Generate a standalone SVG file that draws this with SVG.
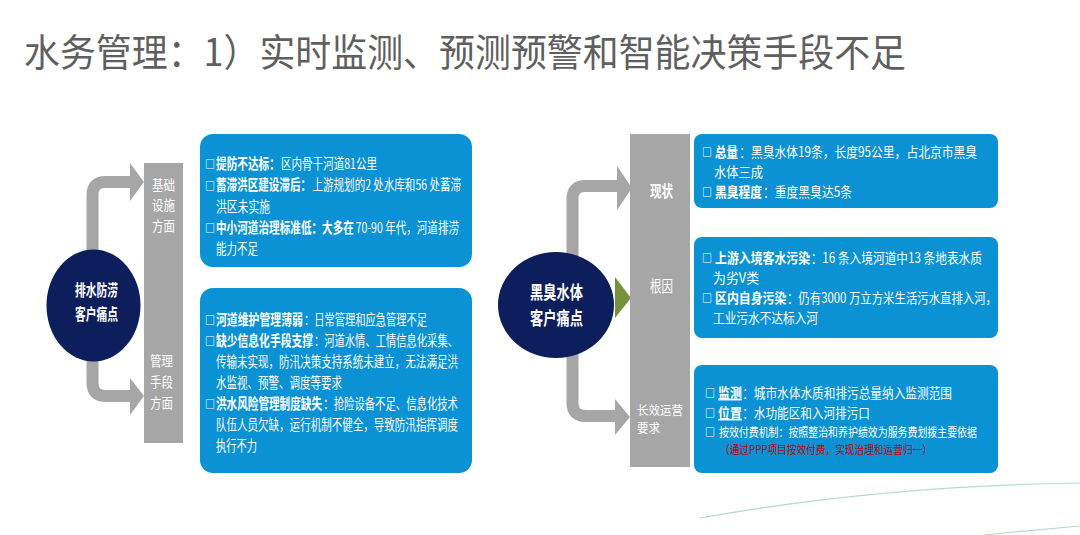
<svg xmlns="http://www.w3.org/2000/svg" width="1080" height="535" viewBox="0 0 1080 535">
<style>
text{font-family:"Noto Sans CJK SC","Noto Sans",sans-serif;}
.title{font-size:38px;fill:#5f5f5f;}
.box{fill:#0b92d4;}
.bar{fill:#a6a6a6;}
.circ{fill:#0c1e5b;}
.t15{font-size:14.4px;fill:#ffffff;}
.t16{font-size:13.8px;fill:#ffffff;}
.t13{font-size:12.5px;fill:#ffffff;}
.red{font-size:11.3px;fill:#c00000;}
.cb{font-size:10px;font-weight:bold;fill:#ffffff;}
.b{font-weight:bold;}
.u{text-decoration:underline;}
.lbl{font-size:16px;fill:#ffffff;}
.lb14{font-size:13.8px;fill:#ffffff;}
.lb12{font-size:12.4px;fill:#ffffff;}
.cl{font-weight:bold;fill:#ffffff;text-anchor:middle;}
.shaft{fill:none;stroke:#a6a6a6;stroke-width:12;}
.head{fill:#a6a6a6;}
.curve{fill:none;stroke:#b3dcc6;stroke-width:1.2;}
</style>

<g transform="matrix(0.947,0,0,1,1.27,0)">
  <text class="title" x="24" y="66" textLength="931.4" lengthAdjust="spacingAndGlyphs">水务管理：1）实时监测、预测预警和智能决策手段不足</text>
</g>

<g id="connectors">
  <path class="shaft" d="M92.5 262 V195 Q92.5 182 105.5 182 H132"/>
  <polygon class="head" points="130,163 144,182 130,201"/>
  <path class="shaft" d="M92.5 350 V383 Q92.5 396 105.5 396 H132"/>
  <polygon class="head" points="130,378 144,396 130,415"/>
  <path class="shaft" d="M572.5 262 V199 Q572.5 186 585.5 186 H619"/>
  <polygon class="head" points="617,166 632,188 617,210"/>
  <polygon fill="#76923c" points="615,277 631,298 615,318"/>
  <path class="shaft" d="M572.5 350 V403 Q572.5 416 585.5 416 H617"/>
  <polygon class="head" points="615,399 630,417 615,435"/>
</g>

<g id="node-left-circle">
  <ellipse class="circ" cx="93.5" cy="305.5" rx="47" ry="56"/>
  <g transform="matrix(0.672,0,0,1,31.65,0)">
    <text class="cl" x="96.5" y="296" font-size="16">排水防涝</text>
    <text class="cl" x="96.5" y="320" font-size="16">客户痛点</text>
  </g>
</g>

<g id="node-left-bar">
  <rect class="bar" x="144" y="163" width="39" height="280"/>
  <g transform="matrix(0.833,0,0,1,25.4,0)">
    <text class="lb14" x="152" y="190">基础</text>
    <text class="lb14" x="152" y="210.5">设施</text>
    <text class="lb14" x="152" y="231">方面</text>
  </g>
  <g transform="matrix(0.833,0,0,1,25.05,0)">
    <text class="lb14" x="150" y="366">管理</text>
    <text class="lb14" x="150" y="387">手段</text>
    <text class="lb14" x="150" y="408">方面</text>
  </g>
</g>

<g id="node-left-box1">
  <rect class="box" x="200" y="134" width="272" height="133" rx="13"/>
  <text class="cb" x="205" y="168">□</text>
  <text class="cb" x="205" y="189.5">□</text>
  <text class="cb" x="205" y="232">□</text>
  <g transform="matrix(0.743,0,0,1,55.5,0)">
    <text class="t15 b" x="216" y="169" textLength="86.1" lengthAdjust="spacingAndGlyphs">提防不达标：</text>
    <text class="t15" x="303.5" y="169" textLength="129.2" lengthAdjust="spacingAndGlyphs">区内骨干河道81公里</text>
    <text class="t15 b" x="216" y="190.5" textLength="127.9" lengthAdjust="spacingAndGlyphs">蓄滞洪区建设滞后：</text>
    <text class="t15" x="346" y="190.5" textLength="199.7" lengthAdjust="spacingAndGlyphs">上游规划的2 处水库和56 处蓄滞</text>
    <text class="t15" x="216" y="212" textLength="72.7" lengthAdjust="spacingAndGlyphs">洪区未实施</text>
    <text class="t15 b" x="216" y="233" textLength="185.7" lengthAdjust="spacingAndGlyphs">中小河道治理标准低：大多在</text>
    <text class="t15" x="404" y="233" textLength="139.1" lengthAdjust="spacingAndGlyphs">70-90 年代，河道排涝</text>
    <text class="t15" x="216" y="254" textLength="56.5" lengthAdjust="spacingAndGlyphs">能力不足</text>
  </g>
</g>

<g id="node-left-box2">
  <rect class="box" x="200" y="288" width="272" height="185" rx="13"/>
  <text class="cb" x="205" y="324">□</text>
  <text class="cb" x="205" y="345">□</text>
  <text class="cb" x="205" y="408">□</text>
  <g transform="matrix(0.743,0,0,1,55.5,0)">
    <text class="t15 b" x="216" y="325" textLength="117.1" lengthAdjust="spacingAndGlyphs">河道维护管理薄弱</text>
    <text class="t15" x="334.4" y="325" textLength="165.6" lengthAdjust="spacingAndGlyphs">：日常管理和应急管理不足</text>
    <text class="t15 b" x="216" y="346" textLength="130.6" lengthAdjust="spacingAndGlyphs">缺少信息化手段支撑</text>
    <text class="t15" x="347.9" y="346" textLength="193.8" lengthAdjust="spacingAndGlyphs">：河道水情、工情信息化采集、</text>
    <text class="t15" x="216" y="367" textLength="325.7" lengthAdjust="spacingAndGlyphs">传输未实现，防汛决策支持系统未建立，无法满足洪</text>
    <text class="t15" x="216" y="388" textLength="169.6" lengthAdjust="spacingAndGlyphs">水监视、预警、调度等要求</text>
    <text class="t15 b" x="216" y="409" textLength="142.7" lengthAdjust="spacingAndGlyphs">洪水风险管理制度缺失</text>
    <text class="t15" x="360.5" y="409" textLength="181.2" lengthAdjust="spacingAndGlyphs">：抢险设备不足、信息化技术</text>
    <text class="t15" x="216" y="430" textLength="325.7" lengthAdjust="spacingAndGlyphs">队伍人员欠缺，运行机制不健全，导致防汛指挥调度</text>
    <text class="t15" x="216" y="451" textLength="55.2" lengthAdjust="spacingAndGlyphs">执行不力</text>
  </g>
</g>

<g id="node-right-circle">
  <ellipse class="circ" cx="556" cy="305" rx="58" ry="53"/>
  <g transform="matrix(0.74,0,0,1,144.7,0)">
    <text class="cl" x="556.5" y="299" font-size="17.9">黑臭水体</text>
    <text class="cl" x="556.5" y="325" font-size="17.9">客户痛点</text>
  </g>
</g>

<g id="node-right-bar">
  <rect class="bar" x="630" y="134" width="60" height="333"/>
  <g transform="matrix(0.72,0,0,1,182,0)">
    <text class="lbl b" x="650" y="197">现状</text>
    <text class="lbl" x="650" y="292">根因</text>
  </g>
  <g transform="matrix(0.927,0,0,1,46.5,0)">
    <text class="lb12" x="637" y="415">长效运营</text>
    <text class="lb12" x="637" y="433">要求</text>
  </g>
</g>

<g id="node-right-box1">
  <rect class="box" x="694" y="134" width="304" height="74" rx="8"/>
  <text class="cb" x="702" y="156">□</text>
  <text class="cb" x="702" y="196">□</text>
  <g transform="matrix(0.862,0,0,1,98.67,0)">
    <text class="t16 b" x="715" y="157" textLength="26.7" lengthAdjust="spacingAndGlyphs">总量</text>
    <text class="t16" x="743" y="157" textLength="275.9" lengthAdjust="spacingAndGlyphs">：黑臭水体19条，长度95公里，占北京市黑臭</text>
    <text class="t16" x="713.8" y="177" textLength="56.8" lengthAdjust="spacingAndGlyphs">水体三成</text>
    <text class="t16 b" x="715" y="197" textLength="54.5" lengthAdjust="spacingAndGlyphs">黑臭程度</text>
    <text class="t16" x="770.7" y="197" textLength="103.2" lengthAdjust="spacingAndGlyphs">：重度黑臭达5条</text>
  </g>
</g>

<g id="node-right-box2">
  <rect class="box" x="694" y="237" width="304" height="101" rx="8"/>
  <text class="cb" x="702" y="262">□</text>
  <text class="cb" x="702" y="302">□</text>
  <g transform="matrix(0.862,0,0,1,98.67,0)">
    <text class="t16 b" x="715" y="263" textLength="110.4" lengthAdjust="spacingAndGlyphs">上游入境客水污染</text>
    <text class="t16" x="826" y="263" textLength="198.7" lengthAdjust="spacingAndGlyphs">：16 条入境河道中13 条地表水质</text>
    <text class="t16" x="712.7" y="283" textLength="53.4" lengthAdjust="spacingAndGlyphs">为劣V类</text>
    <text class="t16 b" x="715" y="303" textLength="82.8" lengthAdjust="spacingAndGlyphs">区内自身污染</text>
    <text class="t16" x="798.5" y="303" textLength="243.6" lengthAdjust="spacingAndGlyphs">：仍有3000 万立方米生活污水直排入河，</text>
    <text class="t16" x="712.7" y="323" textLength="121.8" lengthAdjust="spacingAndGlyphs">工业污水不达标入河</text>
  </g>
</g>

<g id="node-right-box3">
  <rect class="box" x="694" y="365" width="304" height="108" rx="8"/>
  <text class="cb" x="705" y="397">□</text>
  <text class="cb" x="705" y="417">□</text>
  <text class="cb" x="705" y="436">□</text>
  <g transform="matrix(0.862,0,0,1,98.67,0)">
    <text class="t16 b u" x="718.5" y="398" textLength="27.6" lengthAdjust="spacingAndGlyphs">监测</text>
    <text class="t16" x="746.5" y="398" textLength="243.4" lengthAdjust="spacingAndGlyphs">：城市水体水质和排污总量纳入监测范围</text>
    <text class="t16 b u" x="718.5" y="418" textLength="27.6" lengthAdjust="spacingAndGlyphs">位置</text>
    <text class="t16" x="746.5" y="418" textLength="148.3" lengthAdjust="spacingAndGlyphs">：水功能区和入河排污口</text>
    <text class="t13" x="719.6" y="437" textLength="299.3" lengthAdjust="spacingAndGlyphs">按效付费机制：按照整治和养护绩效为服务费划拨主要依据</text>
    <text class="red" x="720.8" y="454" textLength="245.9" lengthAdjust="spacingAndGlyphs">（通过PPP项目按效付费，实现治理和运营归一）</text>
  </g>
</g>

<path class="curve" d="M700 518 Q880 486 1080 483"/>
<path class="curve" d="M983 535 Q1035 530 1080 526"/>
</svg>
